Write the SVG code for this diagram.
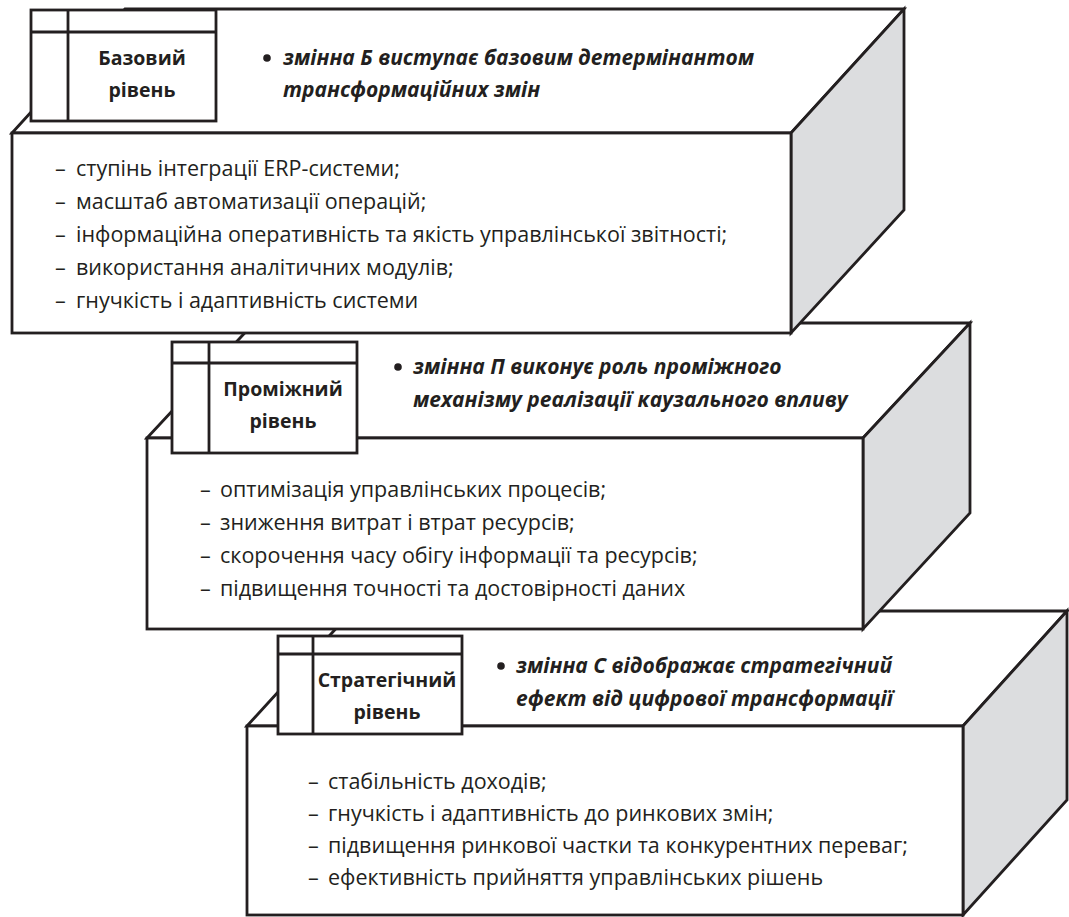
<svg xmlns="http://www.w3.org/2000/svg" width="1069" height="917" viewBox="0 0 1069 917">
<style>
.ln{stroke:#231f20;stroke-width:2.8;stroke-linejoin:miter;}
.w{fill:#ffffff;}
.g{fill:#dcdddf;}
.lbl{font-family:"Open Sans","Noto Sans",sans-serif;font-weight:bold;font-size:19.5px;fill:#231f20;text-anchor:middle;}
.it{font-family:"Open Sans","Noto Sans",sans-serif;font-weight:bold;font-style:italic;font-size:21px;fill:#231f20;}
.li{font-family:"Open Sans","Noto Sans",sans-serif;font-size:21.5px;fill:#231f20;}
</style>
<rect width="1069" height="917" fill="#ffffff"/>
<g id="block3">
<polygon class="ln w" points="247,726 352,611 1067,611 963,726"/>
<polygon class="ln g" points="963,726 1067,611 1067,800 963,915"/>
<rect class="ln w" x="247" y="726" width="716" height="189"/>
<text class="it" x="516" y="673">змінна С відображає стратегічний</text>
<text class="it" x="516" y="706">ефект від цифрової трансформації</text>
<circle cx="501" cy="666" r="3.8" fill="#231f20"/>
<text class="li" y="789"><tspan x="308">–</tspan><tspan x="328">стабільність доходів;</tspan></text>
<text class="li" y="821"><tspan x="308">–</tspan><tspan x="328">гнучкість і адаптивність до ринкових змін;</tspan></text>
<text class="li" y="853"><tspan x="308">–</tspan><tspan x="328">підвищення ринкової частки та конкурентних переваг;</tspan></text>
<text class="li" y="885"><tspan x="308">–</tspan><tspan x="328">ефективність прийняття управлінських рішень</tspan></text>
</g>
<g id="block2">
<polygon class="ln w" points="147,438 254,323 970,323 863,438"/>
<polygon class="ln g" points="863,438 970,323 970,513 863,629"/>
<rect class="ln w" x="147" y="438" width="716" height="191"/>
<text class="it" x="413" y="374">змінна П виконує роль проміжного</text>
<text class="it" x="413" y="407">механізму реалізації каузального впливу</text>
<circle cx="398" cy="367" r="3.8" fill="#231f20"/>
<text class="li" y="497"><tspan x="200">–</tspan><tspan x="220">оптимізація управлінських процесів;</tspan></text>
<text class="li" y="530"><tspan x="200">–</tspan><tspan x="220">зниження витрат і втрат ресурсів;</tspan></text>
<text class="li" y="563"><tspan x="200">–</tspan><tspan x="220">скорочення часу обігу інформації та ресурсів;</tspan></text>
<text class="li" y="596"><tspan x="200">–</tspan><tspan x="220">підвищення точності та достовірності даних</tspan></text>
</g>
<g id="block1">
<polygon class="ln w" points="12,133 125,9 904,9 791,133"/>
<polygon class="ln g" points="791,133 904,9 904,210 791,333"/>
<rect class="ln w" x="12" y="133" width="779" height="200"/>
<text class="it" x="283" y="65">змінна Б виступає базовим детермінантом</text>
<text class="it" x="283" y="97">трансформаційних змін</text>
<circle cx="267" cy="58" r="3.8" fill="#231f20"/>
<text class="li" y="176"><tspan x="55">–</tspan><tspan x="76">ступінь інтеграції ERP-системи;</tspan></text>
<text class="li" y="209"><tspan x="55">–</tspan><tspan x="76">масштаб автоматизації операцій;</tspan></text>
<text class="li" y="242"><tspan x="55">–</tspan><tspan x="76">інформаційна оперативність та якість управлінської звітності;</tspan></text>
<text class="li" y="275"><tspan x="55">–</tspan><tspan x="76">використання аналітичних модулів;</tspan></text>
<text class="li" y="308"><tspan x="55">–</tspan><tspan x="76">гнучкість і адаптивність системи</tspan></text>
</g>
<g id="label1">
<rect class="ln w" x="31" y="10" width="185" height="111"/>
<line class="ln" x1="68" y1="10" x2="68" y2="121"/>
<line class="ln" x1="31" y1="32" x2="216" y2="32"/>
<text class="lbl" x="142" y="65">Базовий</text>
<text class="lbl" x="142" y="97">рівень</text>
</g>
<g id="label2">
<rect class="ln w" x="172" y="342" width="185" height="111"/>
<line class="ln" x1="209" y1="342" x2="209" y2="453"/>
<line class="ln" x1="172" y1="363" x2="357" y2="363"/>
<text class="lbl" x="283" y="396">Проміжний</text>
<text class="lbl" x="283" y="428">рівень</text>
</g>
<g id="label3">
<rect class="ln w" x="278" y="636" width="184" height="98"/>
<line class="ln" x1="313" y1="636" x2="313" y2="734"/>
<line class="ln" x1="278" y1="654" x2="462" y2="654"/>
<text class="lbl" x="387" y="687">Стратегічний</text>
<text class="lbl" x="387" y="719">рівень</text>
</g>
</svg>
